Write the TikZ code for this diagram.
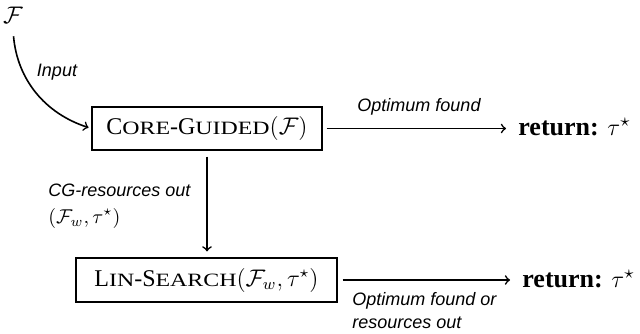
\documentclass[tikz,border=0pt]{standalone}
\usepackage{fontspec}
\setmainfont{Liberation Serif}
\setsansfont{Liberation Sans}
\newcommand{\fsc}[1]{\scalebox{1.27}[1]{\fontsize{9.4pt}{11pt}\selectfont #1}}
\begin{document}
\begin{tikzpicture}[x=0.5pt,y=-0.5pt,
  procbox/.style={draw, line width=0.6pt, inner sep=0pt, font=\fontsize{12}{14}\selectfont},
  lbl/.style={font=\fontsize{9}{11.5}\selectfont\sffamily\itshape, inner sep=0pt},
  conn/.style={->, line width=0.8pt},
  ret/.style={font=\fontsize{13}{15}\selectfont, inner sep=0pt, anchor=west}]
\useasboundingbox (0,0) rectangle (640,333);
\node[font=\fontsize{12}{14}\selectfont] (F) at (13,15) {$\mathcal{F}$};
\node[procbox, minimum width=115pt, minimum height=21.5pt] (cg) at (207,128.5)
  {C\fsc{ORE}-G\fsc{UIDED}$(\mathcal{F})$};
\node[procbox, minimum width=130.5pt, minimum height=22pt] (ls) at (206.5,280)
  {L\fsc{IN}-S\fsc{EARCH}$(\mathcal{F}_w,\tau^\star)$};
\node[ret] (r1) at (518,127) {\textbf{return:} $\tau^\star$};
\node[ret] (r2) at (522,279) {\textbf{return:} $\tau^\star$};
\draw[conn, shorten <=3pt, shorten >=1.5pt] (F.south) to[out=-85,in=162] (cg.west);
\node[lbl] (inp) at (57,72) {Input};
\draw[conn, shorten <=2pt, shorten >=6pt] (cg.east) -- (r1.west |- cg.east);
\node[lbl] (of) at (419,107) {Optimum found};
\draw[conn, shorten <=3pt, shorten >=3pt] (cg.south) -- (cg.south |- ls.north);
\node[lbl, anchor=west] (cgr) at (48,190) {CG-resources out};
\node[anchor=west, inner sep=0pt, font=\fontsize{10}{12}\selectfont] (fw) at (48,218) {$(\mathcal{F}_w,\tau^\star)$};
\draw[conn, shorten <=2.5pt, shorten >=6pt] (ls.east) -- (r2.west |- ls.east);
\node[lbl, anchor=west, align=left] (ofr) at (352,311) {Optimum found or\\resources out};
\end{tikzpicture}
\end{document}
